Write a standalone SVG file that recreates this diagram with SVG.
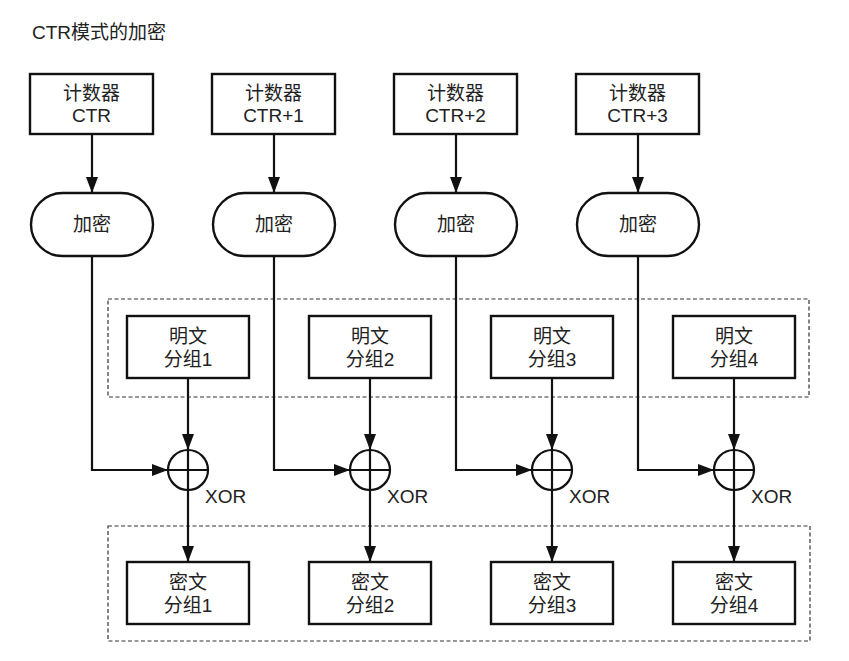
<svg xmlns="http://www.w3.org/2000/svg" width="849" height="661" viewBox="0 0 849 661">
<defs>
<style>
.box{fill:#fff;stroke:#111;stroke-width:2.4}
.dash{fill:none;stroke:#333;stroke-width:1.2;stroke-dasharray:4 2.5}
.ln{fill:none;stroke:#111;stroke-width:2.2}
.t{font-family:"Liberation Sans","Noto Sans CJK SC",sans-serif;font-size:19px;fill:#222;text-anchor:middle}
.x{font-family:"Liberation Sans","Noto Sans CJK SC",sans-serif;font-size:19px;fill:#222}
</style>
<marker id="ah" markerUnits="userSpaceOnUse" markerWidth="16" markerHeight="12" refX="16" refY="6" orient="auto" viewBox="0 0 16 12">
<path d="M0,0 L16,6 L0,12 z" fill="#111"/>
</marker>
</defs>
<rect width="849" height="661" fill="#fff"/>
<text class="x" x="32" y="39">CTR模式的加密</text>
<g id="groups">
<rect class="dash" x="108" y="299" width="701" height="98"/>
<rect class="dash" x="108" y="526" width="702" height="115"/>
</g>
<g id="connectors">
<line class="ln" x1="92" y1="134" x2="92" y2="193" marker-end="url(#ah)"/>
<line class="ln" x1="274" y1="134" x2="274" y2="193" marker-end="url(#ah)"/>
<line class="ln" x1="456" y1="134" x2="456" y2="193" marker-end="url(#ah)"/>
<line class="ln" x1="638" y1="134" x2="638" y2="193" marker-end="url(#ah)"/>
<polyline class="ln" points="92,256 92,470 168,470" marker-end="url(#ah)"/>
<polyline class="ln" points="274,256 274,470 350,470" marker-end="url(#ah)"/>
<polyline class="ln" points="456,256 456,470 532,470" marker-end="url(#ah)"/>
<polyline class="ln" points="638,256 638,470 714,470" marker-end="url(#ah)"/>
<line class="ln" x1="188" y1="378" x2="188" y2="450" marker-end="url(#ah)"/>
<line class="ln" x1="370" y1="378" x2="370" y2="450" marker-end="url(#ah)"/>
<line class="ln" x1="552" y1="378" x2="552" y2="450" marker-end="url(#ah)"/>
<line class="ln" x1="734" y1="378" x2="734" y2="450" marker-end="url(#ah)"/>
<line class="ln" x1="188" y1="490" x2="188" y2="562" marker-end="url(#ah)"/>
<line class="ln" x1="370" y1="490" x2="370" y2="562" marker-end="url(#ah)"/>
<line class="ln" x1="552" y1="490" x2="552" y2="562" marker-end="url(#ah)"/>
<line class="ln" x1="734" y1="490" x2="734" y2="562" marker-end="url(#ah)"/>
</g>
<g id="ctr1"><rect class="box" x="30" y="74" width="123" height="60"/><text class="t" x="91.5" y="100">计数器</text><text class="t" x="91.5" y="122">CTR</text></g>
<g id="ctr2"><rect class="box" x="212" y="74" width="123" height="60"/><text class="t" x="273.5" y="100">计数器</text><text class="t" x="273.5" y="122">CTR+1</text></g>
<g id="ctr3"><rect class="box" x="394" y="74" width="123" height="60"/><text class="t" x="455.5" y="100">计数器</text><text class="t" x="455.5" y="122">CTR+2</text></g>
<g id="ctr4"><rect class="box" x="576" y="74" width="123" height="60"/><text class="t" x="637.5" y="100">计数器</text><text class="t" x="637.5" y="122">CTR+3</text></g>
<g id="enc1"><rect class="box" x="31" y="193" width="122" height="63" rx="31.5"/><text class="t" x="92" y="231">加密</text></g>
<g id="enc2"><rect class="box" x="213" y="193" width="122" height="63" rx="31.5"/><text class="t" x="274" y="231">加密</text></g>
<g id="enc3"><rect class="box" x="395" y="193" width="122" height="63" rx="31.5"/><text class="t" x="456" y="231">加密</text></g>
<g id="enc4"><rect class="box" x="577" y="193" width="122" height="63" rx="31.5"/><text class="t" x="638" y="231">加密</text></g>
<g id="p1"><rect class="box" x="127" y="316" width="122" height="62"/><text class="t" x="188" y="343">明文</text><text class="t" x="188" y="366">分组1</text></g>
<g id="p2"><rect class="box" x="309" y="316" width="122" height="62"/><text class="t" x="370" y="343">明文</text><text class="t" x="370" y="366">分组2</text></g>
<g id="p3"><rect class="box" x="491" y="316" width="122" height="62"/><text class="t" x="552" y="343">明文</text><text class="t" x="552" y="366">分组3</text></g>
<g id="p4"><rect class="box" x="673" y="316" width="122" height="62"/><text class="t" x="734" y="343">明文</text><text class="t" x="734" y="366">分组4</text></g>
<g id="xor1"><circle class="ln" cx="188" cy="470" r="20"/><path class="ln" d="M168,470H208M188,450V490"/><text class="x" x="205" y="503">XOR</text></g>
<g id="xor2"><circle class="ln" cx="370" cy="470" r="20"/><path class="ln" d="M350,470H390M370,450V490"/><text class="x" x="387" y="503">XOR</text></g>
<g id="xor3"><circle class="ln" cx="552" cy="470" r="20"/><path class="ln" d="M532,470H572M552,450V490"/><text class="x" x="569" y="503">XOR</text></g>
<g id="xor4"><circle class="ln" cx="734" cy="470" r="20"/><path class="ln" d="M714,470H754M734,450V490"/><text class="x" x="751" y="503">XOR</text></g>
<g id="c1"><rect class="box" x="127" y="562" width="122" height="62"/><text class="t" x="188" y="589">密文</text><text class="t" x="188" y="612">分组1</text></g>
<g id="c2"><rect class="box" x="309" y="562" width="122" height="62"/><text class="t" x="370" y="589">密文</text><text class="t" x="370" y="612">分组2</text></g>
<g id="c3"><rect class="box" x="491" y="562" width="122" height="62"/><text class="t" x="552" y="589">密文</text><text class="t" x="552" y="612">分组3</text></g>
<g id="c4"><rect class="box" x="673" y="562" width="122" height="62"/><text class="t" x="734" y="589">密文</text><text class="t" x="734" y="612">分组4</text></g>
</svg>
